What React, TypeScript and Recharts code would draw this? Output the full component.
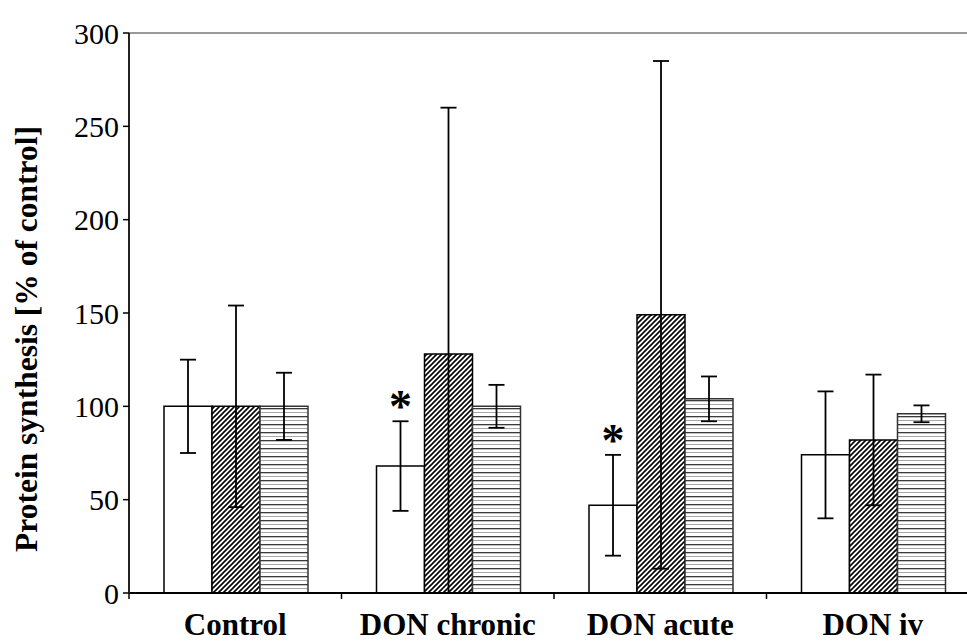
import React from 'react';
import { BarChart, Bar, XAxis, YAxis, ErrorBar, LabelList, ReferenceLine } from 'recharts';

// group names along the x axis
const categories = ['Control', 'DON chronic', 'DON acute', 'DON iv'];

// open (white) bars
const openMeans = [100, 68, 47, 74];
const openErr = [25, 24, 27, 34];

// diagonal hatched bars; chronic error bar is cut at zero so it's [low, high]
const hatchMeans = [100, 128, 149, 82];
const hatchErr: (number | number[])[] = [54, [128, 132], 136, 35];

// horizontally striped bars
const stripeMeans = [100, 100, 104, 96];
const stripeErr = [18, 11.5, 12, 4.5];

// significance marks over the open bars
const stars = ['', '*', '*', ''];

const yTicks = [0, 50, 100, 150, 200, 250, 300];

const rows = categories.map((name, i) => ({
  name,
  open: openMeans[i],
  openErr: openErr[i],
  hatch: hatchMeans[i],
  hatchErr: hatchErr[i],
  stripe: stripeMeans[i],
  stripeErr: stripeErr[i],
  star: stars[i],
}));

const SERIF = '"Liberation Serif", "Times New Roman", serif';
const CHART_W = 971;
const CHART_H = 634;
const AXIS_W = 121;
const HALF_BAND = (CHART_W - AXIS_W) / categories.length / 2;

const CategoryTick = (props: any) => {
  const { x, y, payload } = props;
  return (
    <g>
      <line x1={x - HALF_BAND} x2={x - HALF_BAND} y1={y} y2={y + 6} stroke="#000" strokeWidth={1.5} />
      <text x={x} y={y + 42} textAnchor="middle" fontFamily={SERIF} fontWeight="bold" fontSize={31} fill="#000">
        {payload.value}
      </text>
    </g>
  );
};

const YTitle = (props: any) => {
  const vb = props.viewBox || { x: 0, y: 25, width: AXIS_W, height: 560 };
  const cx = 29;
  const cy = vb.y + vb.height / 2 + 26;
  return (
    <text
      x={cx}
      y={cy}
      transform={`rotate(-90, ${cx}, ${cy})`}
      textAnchor="middle"
      fontFamily={SERIF}
      fontWeight="bold"
      fontSize={31.5}
      fill="#000"
    >
      Protein synthesis [% of control]
    </text>
  );
};

// asterisk sits just above the top of the error bar
const StarLabel = (props: any) => {
  const { x, y, width, height, value, index } = props;
  if (!value) return null;
  const mean = openMeans[index];
  const perUnit = height / mean;
  const errTop = y + height - (mean + openErr[index]) * perUnit;
  return (
    <text x={x + width / 2} y={errTop + 1} textAnchor="middle" fontFamily={SERIF} fontWeight="bold" fontSize={46} fill="#000">
      {value}
    </text>
  );
};

export default function App() {
  return (
    <div style={{ position: 'absolute', left: 8, top: 8, width: 959, height: 634, overflow: 'hidden', background: '#fff' }}>
      <BarChart
        width={CHART_W}
        height={CHART_H}
        data={rows}
        margin={{ top: 25, right: 0, bottom: 0, left: 0 }}
        barGap={0}
        barCategoryGap={35}
      >
        <defs>
          <pattern id="diag" patternUnits="userSpaceOnUse" width={5} height={5}>
            <rect width={5} height={5} fill="#fff" />
            <path d="M0,5 L5,0 M-1,1 L1,-1 M4,6 L6,4" stroke="#000" strokeWidth={1.6} />
          </pattern>
          <pattern id="stripes" patternUnits="userSpaceOnUse" width={8} height={8}>
            <rect width={8} height={8} fill="#fff" />
            <rect y={0} width={8} height={1.3} fill="#3a3a3a" />
            <rect y={4} width={8} height={1} fill="#a8a8a8" />
          </pattern>
        </defs>
        <ReferenceLine y={300} stroke="#999" strokeWidth={2} />
        <XAxis
          dataKey="name"
          height={CHART_H - 25 - 560}
          interval={0}
          tickSize={0}
          tickMargin={0}
          tickLine={false}
          tick={<CategoryTick />}
          axisLine={{ stroke: '#000', strokeWidth: 2 }}
        />
        <YAxis
          width={AXIS_W}
          domain={[0, 300]}
          ticks={yTicks}
          interval={0}
          tickSize={6}
          tickMargin={4}
          tick={{ fill: '#000', fontSize: 30, fontFamily: SERIF }}
          tickLine={{ stroke: '#000', strokeWidth: 1.5 }}
          axisLine={{ stroke: '#222', strokeWidth: 2 }}
          label={<YTitle />}
        />
        <Bar dataKey="open" fill="#fff" stroke="#000" strokeWidth={1.5} isAnimationActive={false}>
          <ErrorBar dataKey="openErr" direction="y" width={8} stroke="#000" strokeWidth={1.8} />
          <LabelList dataKey="star" content={<StarLabel />} />
        </Bar>
        <Bar dataKey="hatch" fill="url(#diag)" stroke="#000" strokeWidth={1.5} isAnimationActive={false}>
          <ErrorBar dataKey="hatchErr" direction="y" width={8} stroke="#000" strokeWidth={1.8} />
        </Bar>
        <Bar dataKey="stripe" fill="url(#stripes)" stroke="#333" strokeWidth={1.5} isAnimationActive={false}>
          <ErrorBar dataKey="stripeErr" direction="y" width={8} stroke="#000" strokeWidth={1.8} />
        </Bar>
      </BarChart>
    </div>
  );
}
